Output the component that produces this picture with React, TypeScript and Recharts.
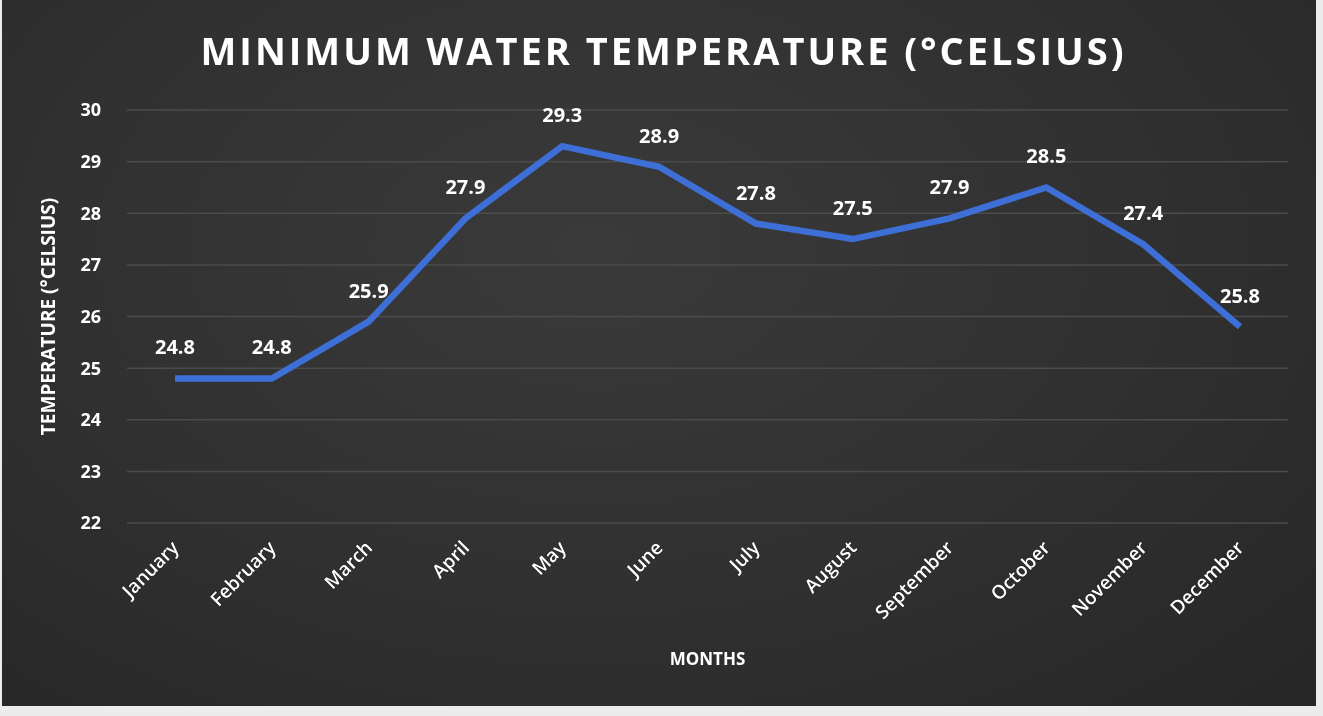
import { LineChart, Line, XAxis, YAxis, CartesianGrid, LabelList, Label } from 'recharts';

// chart values
const months = ['January', 'February', 'March', 'April', 'May', 'June', 'July', 'August', 'September', 'October', 'November', 'December'];
const minTemps = [24.8, 24.8, 25.9, 27.9, 29.3, 28.9, 27.8, 27.5, 27.9, 28.5, 27.4, 25.8];
const yTicks = [22, 23, 24, 25, 26, 27, 28, 29, 30];

const FONT = '"Open Sans", "Noto Sans", sans-serif';

const data = months.map((m, i) => ({ month: m, temp: minTemps[i] }));

// rotated month labels, Excel style
const MonthTick = (props: any) => {
  const { x, y, payload } = props;
  return (
    <g transform={`translate(${x + 5},${y + 18})`}>
      <text
        transform="rotate(-45)"
        textAnchor="end"
        fill="#ffffff"
        fontSize={19}
        fontWeight={600}
        fontFamily={FONT}
        stroke="#111"
        strokeWidth={0.6}
        paintOrder="stroke"
      >
        {payload.value}
      </text>
    </g>
  );
};

export default function App() {
  return (
    <div style={{ position: 'fixed', left: 0, top: 0, width: 1323, height: 716, background: '#ececec' }}>
      <div
        style={{
          position: 'absolute',
          left: 2,
          top: 0,
          width: 1314,
          height: 706,
          background: 'radial-gradient(ellipse at 45% 35%, #3a3a3a 0%, #303030 55%, #262626 100%)',
        }}
      >
        <div
          style={{
            position: 'absolute',
            top: 24,
            left: 0,
            width: 1323,
            textAlign: 'center',
            color: '#fff',
            fontFamily: FONT,
            fontWeight: 700,
            fontSize: 38,
            letterSpacing: 3,
          }}
        >
          MINIMUM WATER TEMPERATURE (°CELSIUS)
        </div>
        <LineChart width={1314} height={706} data={data} margin={{ top: 110, right: 28, bottom: 103, left: 30 }}>
          <CartesianGrid vertical={false} stroke="#4b4b4b" strokeWidth={1.5} />
          <XAxis
            dataKey="month"
            padding={{ left: 48, right: 48 }}
            axisLine={false}
            tickLine={false}
            interval={0}
            height={80}
            tick={<MonthTick />}
          >
            <Label value="MONTHS" position="insideBottom" offset={-62} fill="#fff" fontSize={17} fontWeight={700} fontFamily={FONT} />
          </XAxis>
          <YAxis
            domain={[22, 30]}
            ticks={yTicks}
            axisLine={false}
            tickLine={false}
            width={95}
            tickMargin={20}
            tick={{ fill: '#fff', fontSize: 18, fontWeight: 700, fontFamily: FONT }}
          >
            <Label
              value="TEMPERATURE (°CELSIUS)"
              angle={-90}
              position="insideLeft"
              offset={16}
              style={{ textAnchor: 'middle' }}
              fill="#fff"
              fontSize={19}
              fontWeight={700}
              fontFamily={FONT}
            />
          </YAxis>
          <Line
            type="linear"
            dataKey="temp"
            stroke="#3d6fd6"
            strokeWidth={6.5}
            dot={false}
            isAnimationActive={false}
          >
            <LabelList dataKey="temp" position="top" offset={24} fill="#fff" fontSize={20} fontWeight={700} fontFamily={FONT} />
          </Line>
        </LineChart>
      </div>
    </div>
  );
}
